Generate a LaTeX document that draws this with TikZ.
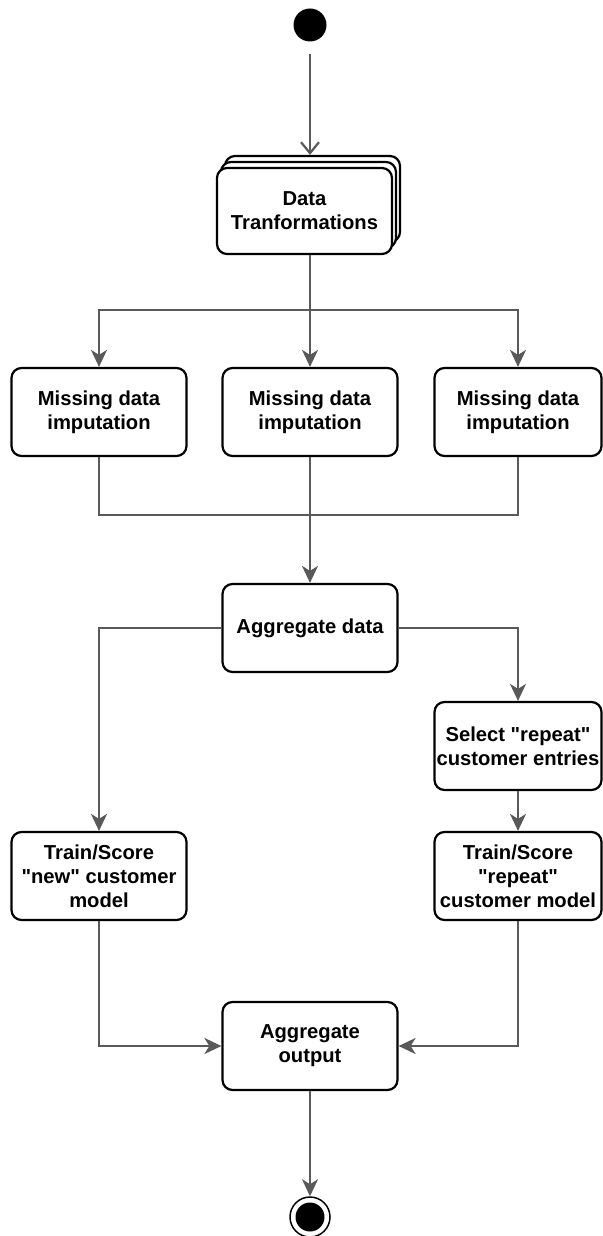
\documentclass[tikz,border=0pt]{standalone}
\usepackage{fontspec}
\setmainfont{Liberation Sans}[Ligatures=TeXOff]
\usetikzlibrary{arrows.meta}
\definecolor{linegray}{HTML}{595959}
\begin{document}
\begin{tikzpicture}[x=1pt,y=-1pt,
  box/.style={draw=black,line width=2.2pt,rounded corners=10pt,fill=white,
    minimum width=175pt,minimum height=88pt,align=center,inner sep=0pt,
    font=\fontsize{20.2}{24}\selectfont\bfseries},
  nbox/.style={box,minimum width=167pt},
  conn/.style={draw=linegray,line width=2.6pt},
  arr/.style={conn,-{Stealth[length=17pt,width=16pt,inset=5pt]}},
  openarr/.style={conn,-{Straight Barb[length=11pt,width=18pt,line width=2.2pt]}}]
\useasboundingbox (0,0) rectangle (602,1236);

\node[circle,fill=black,minimum size=33pt,inner sep=0pt] (start) at (310,25) {};

\node[box,minimum height=86pt] (dt3) at (312.5,199) {};
\node[box,minimum height=86pt] (dt2) at (308.5,205) {};
\node[box,minimum height=86pt] (dt) at (304.5,211) {Data\\Tranformations};

\node[box] (m1) at (99,412) {Missing data\\imputation};
\node[box] (m2) at (310,412) {Missing data\\imputation};
\node[nbox] (m3) at (518,412) {Missing data\\imputation};

\node[box] (ad) at (310,628) {Aggregate data};
\node[nbox] (sel) at (518,746) {Select "repeat"\\customer entries};
\node[box] (tn) at (99,876) {Train/Score\\"new" customer\\model};
\node[nbox] (tr) at (518,876) {Train/Score\\"repeat"\\customer model};
\node[box] (ao) at (310,1046) {Aggregate\\output};

\node[circle,draw=black,line width=1.5pt,fill=white,minimum size=40pt,inner sep=0pt] (end) at (310,1217) {};
\node[circle,fill=black,minimum size=29pt,inner sep=0pt] (endin) at (end.center) {};

\coordinate (split) at (310,310);
\coordinate (join) at (310,515);

\draw[openarr] (start.south) ++(0,12) coordinate (s0) (s0) -- (start.south |- dt3.north);
\draw[conn] (m2.north |- dt.south) -- (split);
\draw[arr] (split) -- (m2.north);
\draw[arr] (split) -| (m1.north);
\draw[arr] (split) -| (m3.north);
\draw[conn] (m1.south) |- (join);
\draw[conn] (m3.south) |- (join);
\draw[arr] (m2.south) -- (ad.north);
\draw[arr] (ad.west) -| (tn.north);
\draw[arr] (ad.east) -| (sel.north);
\draw[arr] (sel.south) -- (tr.north);
\draw[arr] (tn.south) |- (ao.west);
\draw[arr] (tr.south) |- (ao.east);
\draw[arr] (ao.south) -- (end.north);
\end{tikzpicture}
\end{document}
